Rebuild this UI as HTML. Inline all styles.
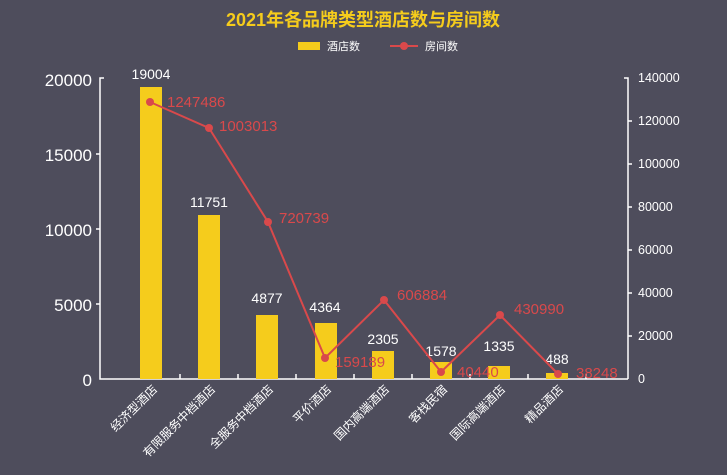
<!DOCTYPE html><html><head><meta charset="utf-8"><style>body{margin:0;background:#4e4d5c}svg{display:block}</style></head><body>
<svg width="727" height="475" font-family="'Liberation Sans','Noto Sans CJK SC',sans-serif">
<rect width="727" height="475" fill="#4e4d5c"/>
<text x="363" y="26" text-anchor="middle" font-size="18" font-weight="bold" fill="#f5cc1c">2021年各品牌类型酒店数与房间数</text>
<rect x="298" y="42" width="22" height="8" fill="#f5cc1c"/><text x="327" y="50" font-size="11" fill="#fff">酒店数</text>
<line x1="390" y1="46" x2="418" y2="46" stroke="#d9494b" stroke-width="2"/><circle cx="404" cy="46" r="4" fill="#d9494b"/><text x="425" y="50" font-size="11" fill="#fff">房间数</text>
<g stroke="#fff" stroke-width="1.5" fill="none">
<path d="M104 78H100V379H628"/><path d="M624 78H628V379"/>
<path d="M96 154H100M96 229H100M96 304H100"/>
<path d="M628 121H632M628 164H632M628 207H632M628 250H632M628 293H632M628 336H632"/>
<path d="M180 379v-5M238 379v-5M296 379v-5M354 379v-5M412 379v-5M470 379v-5M528 379v-5M586 379v-5"/>
</g>
<g fill="#fff" font-size="17" text-anchor="end"><text x="92" y="86">20000</text><text x="92" y="161">15000</text><text x="92" y="236">10000</text><text x="92" y="311">5000</text><text x="92" y="386">0</text></g>
<g fill="#fff" font-size="12.5"><text x="638" y="82">140000</text><text x="638" y="125">120000</text><text x="638" y="168">100000</text><text x="638" y="211">80000</text><text x="638" y="254">60000</text><text x="638" y="297">40000</text><text x="638" y="340">20000</text><text x="638" y="383">0</text></g>
<g fill="#f5cc1c"><rect x="140" y="87" width="22" height="292"/><rect x="198" y="215" width="22" height="164"/><rect x="256" y="315" width="22" height="64"/><rect x="315" y="323" width="22" height="56"/><rect x="372" y="351" width="22" height="28"/><rect x="430" y="362" width="22" height="17"/><rect x="488" y="366" width="22" height="13"/><rect x="546" y="373" width="22" height="6"/></g>
<g fill="#fff" font-size="14" text-anchor="middle"><text x="151" y="79">19004</text><text x="209" y="207">11751</text><text x="267" y="303">4877</text><text x="325" y="312">4364</text><text x="383" y="344">2305</text><text x="441" y="356">1578</text><text x="499" y="351">1335</text><text x="557" y="364">488</text></g>
<polyline points="150,102 209,128 268,222 325,358 384,300 441,372 500,315 558,374" fill="none" stroke="#d9494b" stroke-width="2"/>
<g fill="#d9494b"><circle cx="150" cy="102" r="4"/><circle cx="209" cy="128" r="4"/><circle cx="268" cy="222" r="4"/><circle cx="325" cy="358" r="4"/><circle cx="384" cy="300" r="4"/><circle cx="441" cy="372" r="4"/><circle cx="500" cy="315" r="4"/><circle cx="558" cy="374" r="4"/></g>
<g fill="#d9494b" font-size="15"><text x="167" y="107">1247486</text><text x="219" y="131">1003013</text><text x="279" y="223">720739</text><text x="335" y="367">159189</text><text x="397" y="300">606884</text><text x="457" y="377">40440</text><text x="514" y="314">430990</text><text x="576" y="378">38248</text></g>
<g fill="#fff" font-size="12" text-anchor="end">
<text transform="translate(158,390) rotate(-45)">经济型酒店</text>
<text transform="translate(216,390) rotate(-45)">有限服务中档酒店</text>
<text transform="translate(274,390) rotate(-45)">全服务中档酒店</text>
<text transform="translate(332,390) rotate(-45)">平价酒店</text>
<text transform="translate(390,390) rotate(-45)">国内高端酒店</text>
<text transform="translate(448,390) rotate(-45)">客栈民宿</text>
<text transform="translate(506,390) rotate(-45)">国际高端酒店</text>
<text transform="translate(564,390) rotate(-45)">精品酒店</text>
</g>
</svg></body></html>
